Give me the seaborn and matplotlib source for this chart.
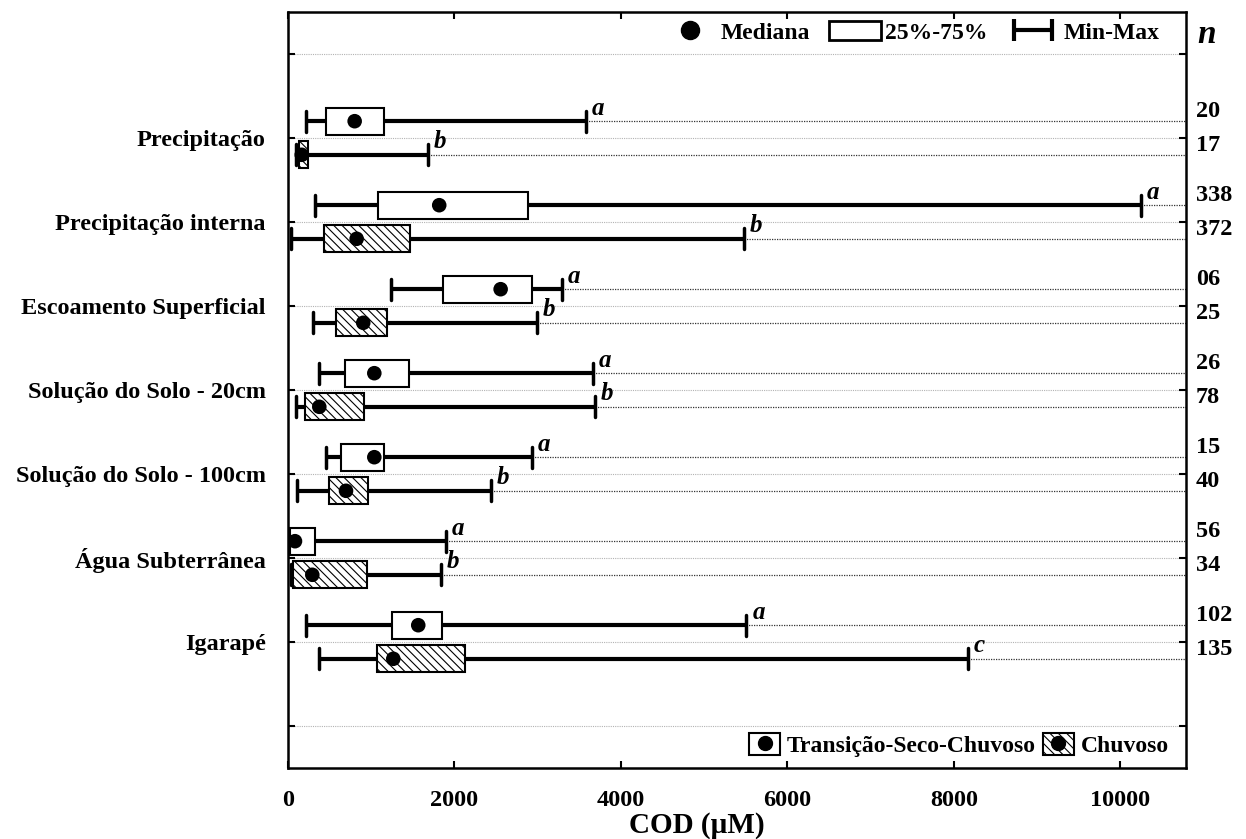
import numpy as np
import pandas as pd
import matplotlib
matplotlib.use('Agg')
import matplotlib.pyplot as plt
import matplotlib.transforms as mtransforms
import seaborn as sns
from matplotlib.patches import Patch
from matplotlib.lines import Line2D
from matplotlib.legend_handler import HandlerLine2D, HandlerTuple

categories = ['Precipitação', 'Precipitação interna', 'Escoamento Superficial',
              'Solução do Solo - 20cm', 'Solução do Solo - 100cm',
              'Água Subterrânea', 'Igarapé']

# Transição-Seco-Chuvoso
dry_min = [216, 328, 1234, 372, 453, 5, 216]
dry_q1 = [453, 1085, 1865, 685, 640, 24, 1253]
dry_med = [801, 1817, 2555, 1037, 1037, 84, 1565]
dry_q3 = [1153, 2886, 2927, 1450, 1153, 328, 1853]
dry_max = [3580, 10246, 3288, 3667, 2927, 1894, 5508]
dry_n = ['20', '338', '06', '26', '15', '56', '102']
dry_letter = ['a', 'a', 'a', 'a', 'a', 'a', 'a']

# Chuvoso
wet_min = [92, 32, 304, 96, 112, 32, 372]
wet_q1 = [132, 429, 577, 201, 496, 64, 1065]
wet_med = [165, 825, 904, 376, 697, 292, 1265]
wet_q3 = [244, 1469, 1193, 917, 965, 945, 2126]
wet_max = [1678, 5481, 2987, 3688, 2438, 1834, 8168]
wet_n = ['17', '372', '25', '78', '40', '34', '135']
wet_letter = ['b', 'b', 'b', 'b', 'b', 'b', 'c']

x_ticks = [0, 2000, 4000, 6000, 8000, 10000]
x_max = 10790
hatch = '\\\\\\\\'

sns.set_style('ticks')
plt.rcParams['font.family'] = ['Liberation Serif', 'DejaVu Serif']
plt.rcParams['font.weight'] = 'bold'
plt.rcParams['hatch.linewidth'] = 0.8
for key in ['text.color', 'axes.labelcolor', 'xtick.color', 'ytick.color', 'axes.edgecolor']:
    plt.rcParams[key] = 'black'

rows = []
for i, cat in enumerate(categories):
    rows.append(dict(cat=cat, season='Transição-Seco-Chuvoso', pos=i + 1 - 0.2,
                     lo=dry_min[i], q1=dry_q1[i], med=dry_med[i], q3=dry_q3[i],
                     hi=dry_max[i], n=dry_n[i], letter=dry_letter[i]))
    rows.append(dict(cat=cat, season='Chuvoso', pos=i + 1 + 0.2,
                     lo=wet_min[i], q1=wet_q1[i], med=wet_med[i], q3=wet_q3[i],
                     hi=wet_max[i], n=wet_n[i], letter=wet_letter[i]))
df = pd.DataFrame(rows)

fig = plt.figure(figsize=(12.46, 8.39), dpi=100)
ax = fig.add_axes([288 / 1246, 1 - 768 / 839, 898 / 1246, 756 / 839])

stats = [dict(med=r.med, q1=r.q1, q3=r.q3, whislo=r.lo, whishi=r.hi, fliers=[])
         for r in df.itertuples()]
bp = ax.bxp(stats, positions=df['pos'], widths=0.32, orientation='horizontal',
            patch_artist=True, showfliers=False, manage_ticks=False, capwidths=0.25,
            boxprops=dict(facecolor='white', edgecolor='black', linewidth=1.5),
            whiskerprops=dict(color='black', linewidth=3, solid_capstyle='butt'),
            capprops=dict(color='black', linewidth=2.5),
            medianprops=dict(linewidth=0))
for patch, season in zip(bp['boxes'], df['season']):
    patch.set_zorder(3)
    if season == 'Chuvoso':
        patch.set_hatch(hatch)

sns.scatterplot(data=df, x='med', y='pos', color='black', s=110, edgecolor='none',
                zorder=5, legend=False, ax=ax, clip_on=True)

# dotted lines from the maximum to the right edge, and the letters
ax.hlines(df['pos'], df['hi'], x_max, colors='0.2', linestyles=(0, (1, 1)), lw=0.9, zorder=1)
for r in df.itertuples():
    ax.text(r.hi + 70, r.pos - 0.02, r.letter, style='italic', fontweight='bold',
            fontsize=18, ha='left', va='bottom')

# n labels outside the right spine
trans = mtransforms.blended_transform_factory(ax.transAxes, ax.transData)
for r in df.itertuples():
    ax.text(1.011, r.pos - 0.11, r.n, transform=trans, ha='left', va='center',
            fontsize=17.5, fontweight='bold')
ax.text(1.013, 0.97, 'n', transform=ax.transAxes, ha='left', va='center',
        fontsize=24, fontweight='bold', style='italic')

ax.set_xlim(0, x_max)
ax.set_ylim(8.5, -0.5)
ax.set_xticks(x_ticks)
ax.set_xticklabels([str(t) for t in x_ticks], fontsize=17.5, fontweight='bold')
ax.set_yticks(range(0, 9))
ax.set_yticklabels([''] + categories + [''], fontsize=17.5, fontweight='bold')
ax.tick_params(direction='in', top=True, right=True, length=5, width=1.5)
ax.tick_params(axis='x', pad=16)
ax.tick_params(axis='y', pad=16)
ax.grid(axis='y', linestyle=(0, (1, 1)), color='0.7', linewidth=0.8)
ax.grid(axis='x', visible=False)
ax.set_axisbelow(True)
for sp in ax.spines.values():
    sp.set_linewidth(1.8)
    sp.set_visible(True)

ax.set_ylabel('')
ax.set_xlabel('COD (µM)', fontsize=21, fontweight='bold')
ax.xaxis.set_label_coords(0.455, -0.058)
ax.xaxis.label.set_va('top')

# top legend
h_med = Line2D([], [], marker='o', color='black', ls='none', markersize=13)
h_box = Patch(facecolor='white', edgecolor='black', linewidth=2)
h_rng = Line2D([], [], color='black', lw=3, marker='|', markersize=16, mew=3)
leg1 = ax.legend([h_med, h_box, h_rng], ['Mediana', '25%-75%', 'Min-Max'],
                 handler_map={h_rng: HandlerLine2D(numpoints=2)},
                 loc='center right', bbox_to_anchor=(0.9705, 0.973), ncol=3,
                 frameon=False, fontsize=17, handlelength=2.2, handleheight=0.85,
                 handletextpad=0.2, columnspacing=0.8, borderpad=0, borderaxespad=0)
ax.add_artist(leg1)

# bottom legend
h_dry = (Patch(facecolor='white', edgecolor='black', linewidth=1.5),
         Line2D([], [], marker='o', color='black', ls='none', markersize=10))
h_wet = (Patch(facecolor='white', edgecolor='black', linewidth=1.5, hatch=hatch),
         Line2D([], [], marker='o', color='black', ls='none', markersize=10))
ax.legend([h_dry, h_wet], ['Transição-Seco-Chuvoso', 'Chuvoso'],
          handler_map={tuple: HandlerTuple(ndivide=1)},
          loc='center right', bbox_to_anchor=(0.981, 0.03), ncol=2,
          frameon=False, fontsize=17, handlelength=1.3, handleheight=1.05,
          handletextpad=0.3, columnspacing=0.3, borderpad=0, borderaxespad=0)

fig.savefig('out.png', dpi=100)
